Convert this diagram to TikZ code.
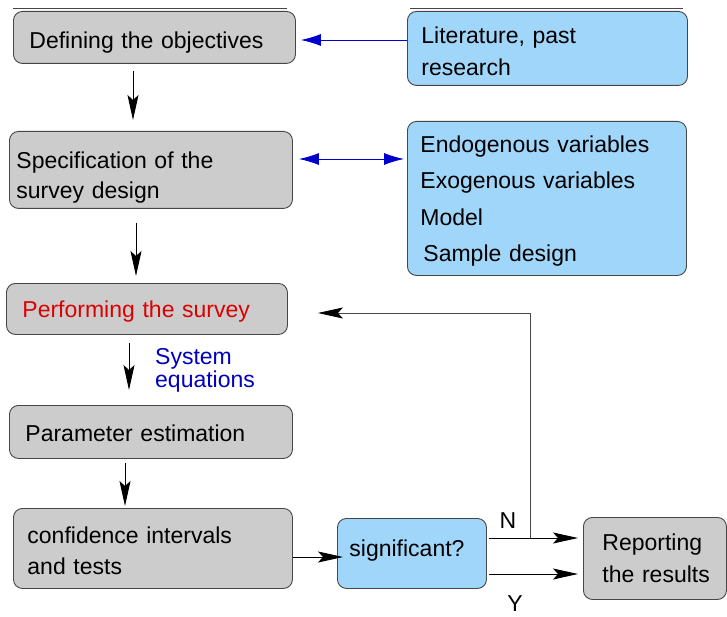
\documentclass[tikz,border=0pt]{standalone}
\usepackage{fontspec}
\setmainfont{Liberation Sans}
\usetikzlibrary{arrows.meta,calc}
\definecolor{boxgrey}{RGB}{204,204,204}
\definecolor{boxblue}{RGB}{160,214,250}
\definecolor{edgegrey}{RGB}{70,70,70}
\definecolor{arrblue}{RGB}{0,0,205}
\definecolor{txtred}{RGB}{220,0,0}
\definecolor{txtblue}{RGB}{0,0,190}
\begin{document}
\begin{tikzpicture}[x=1pt,y=-1pt,
  base/.style={draw=edgegrey,line width=0.9pt,rounded corners=9pt,anchor=north west,
    align=left,inner ysep=0pt,font=\fontsize{23}{30}\selectfont},
  gbox/.style={base,fill=boxgrey},
  bbox/.style={base,fill=boxblue},
  arr/.style={line width=0.9pt,-{Stealth[length=25pt,width=11pt,inset=5pt,color=black]}},
  barr/.style={draw=arrblue,line width=0.9pt,-{Latex[length=20pt,width=12pt]}},
  dbarr/.style={draw=arrblue,line width=0.9pt,{Latex[length=20pt,width=12pt]}-{Latex[length=20pt,width=12pt]}},
  lbl/.style={font=\fontsize{23}{23}\selectfont,inner sep=0pt},
  topline/.style={draw=edgegrey,double=white,double distance=3pt,line width=0.6pt}
]
\useasboundingbox (0,0) rectangle (727,617);

% decorative double lines at the top
\draw[topline] (13,7) -- (287,7);
\draw[topline] (410,7) -- (683,7);

% boxes
\node[gbox,minimum width=282pt,minimum height=52pt,inner xsep=16pt,text width=250pt,
  text height=28pt,text depth=6pt] (def) at (13,11) {Defining the objectives};
\node[bbox,minimum width=280pt,minimum height=74pt,inner xsep=14pt,text width=252pt,
  font=\fontsize{23}{32}\selectfont,text height=20pt,text depth=30pt] (lit) at (407,11) {Literature, past\\research};
\node[gbox,minimum width=283pt,minimum height=77pt,inner xsep=7pt,text width=269pt,
  text height=25pt,text depth=28pt] (spec) at (9,131) {Specification of the\\survey design};
\node[bbox,minimum width=279pt,minimum height=154pt,inner xsep=13pt,text width=253pt,
  font=\fontsize{23}{36.3}\selectfont,text height=20pt,text depth=112pt] (endo) at (407,121)
  {Endogenous variables\\Exogenous variables\\Model\\\hspace*{3pt}Sample design};
\node[gbox,minimum width=281pt,minimum height=51pt,inner xsep=16pt,text width=249pt,text=txtred,
  text height=22pt,text depth=5pt] (perf) at (6,283) {Performing the survey};
\node[gbox,minimum width=283pt,minimum height=53pt,inner xsep=16pt,text width=251pt,
  text height=24pt,text depth=5pt] (param) at (9,405) {Parameter estimation};
\node[gbox,minimum width=279pt,minimum height=80pt,inner xsep=14pt,text width=251pt,
  font=\fontsize{23}{31}\selectfont,text height=22pt,text depth=32pt] (conf) at (13,508) {confidence intervals\\and tests};
\node[bbox,minimum width=149pt,minimum height=70pt,inner xsep=12pt,text width=125pt,
  text height=20pt,text depth=14pt] (sig) at (337,518) {significant?};
\node[gbox,minimum width=143pt,minimum height=82pt,inner xsep=19pt,text width=105pt,
  font=\fontsize{23}{32}\selectfont,text height=20pt,text depth=36pt] (rep) at (583,517) {\mbox{Reporting}\\\mbox{the results}};

% labels
\node[lbl,anchor=west,align=left,text=txtblue] (syseq) at (155,370) {System\\equations};
\node[lbl] (nlab) at (508,521) {N};
\node[lbl] (ylab) at (515,604) {Y};

% helper coordinates
\coordinate (a1) at (133,0);
\coordinate (a2) at (136,0);
\coordinate (a3) at (129,0);
\coordinate (a4) at (125,0);
\coordinate (b1) at (0,40);
\coordinate (b2) at (0,159);
\coordinate (c1) at (0,557);
\coordinate (cn) at (0,538);
\coordinate (cy) at (0,574);
\coordinate (fb) at (530,538);
\coordinate (fy) at (0,313);

% vertical flow arrows
\draw[arr,shorten <=7pt,shorten >=11pt] (def.south -| a1) -- (spec.north -| a1);
\draw[arr,shorten <=14pt,shorten >=7pt] (spec.south -| a2) -- (perf.north -| a2);
\draw[arr,shorten <=8pt,shorten >=15pt] (perf.south -| a3) -- (param.north -| a3);
\draw[arr,shorten <=4pt,shorten >=2pt] (param.south -| a4) -- (conf.north -| a4);

% blue arrows
\draw[barr,shorten >=5pt] (lit.west |- b1) -- (def.east |- b1);
\draw[dbarr,shorten <=6pt,shorten >=3pt] (spec.east |- b2) -- (endo.west |- b2);

% decision arrows
\draw[arr,shorten >=-6pt] (conf.east |- c1) -- (sig.west |- c1);
\draw[arr,shorten <=2pt,shorten >=5pt] (sig.east |- cn) -- (rep.west |- cn);
\draw[arr,shorten <=2pt,shorten >=5pt] (sig.east |- cy) -- (rep.west |- cy);

% feedback loop
\draw[arr,draw=edgegrey,shorten >=30pt] (fb) |- (perf.east |- fy);
\end{tikzpicture}
\end{document}
